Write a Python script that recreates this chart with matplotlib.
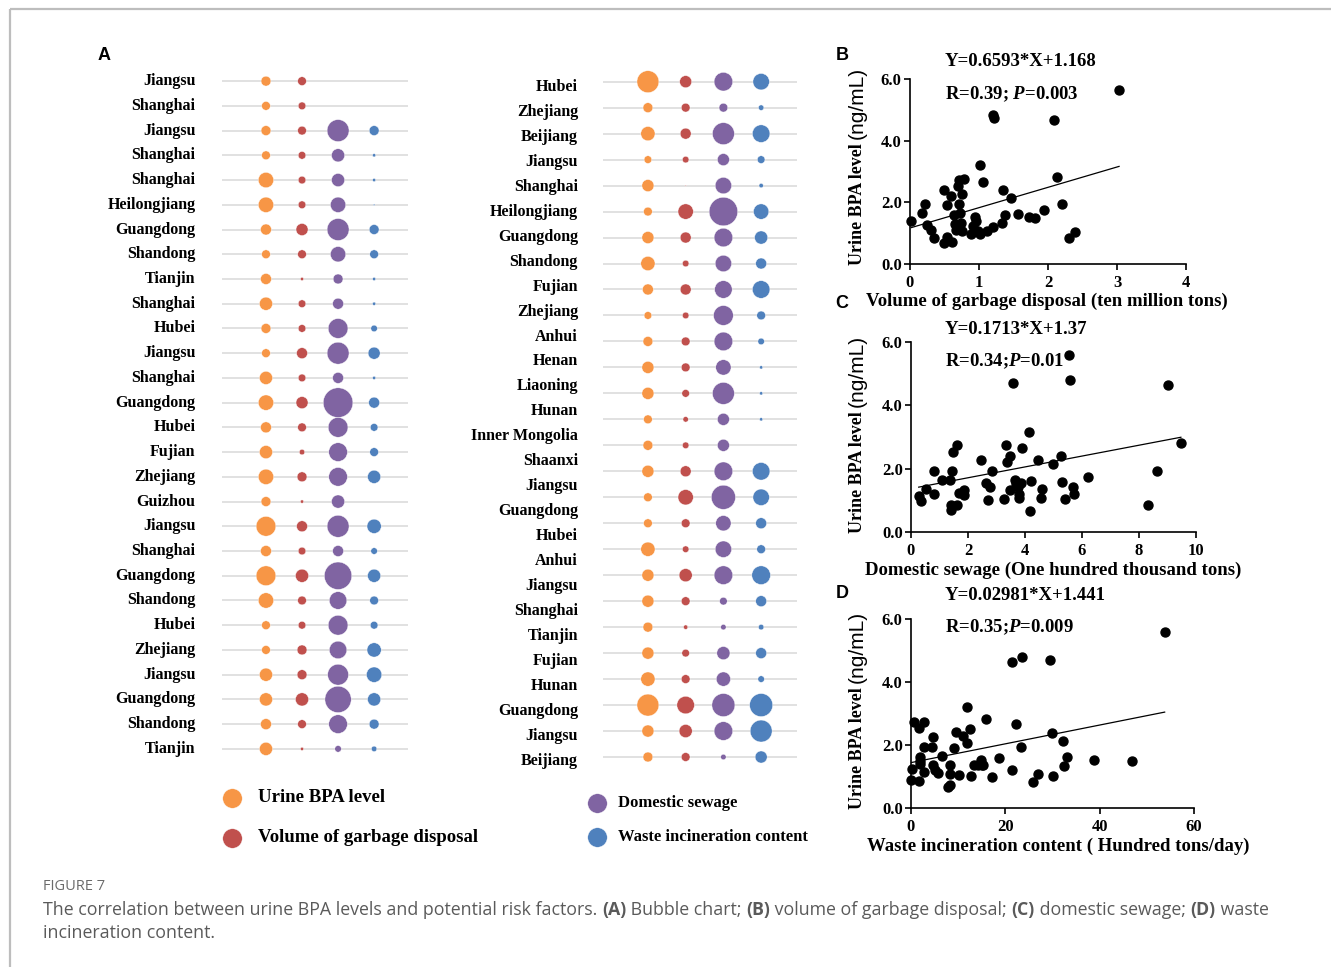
import numpy as np
import matplotlib.pyplot as plt

plt.rcParams["mathtext.fontset"] = "custom"
plt.rcParams["mathtext.rm"] = "Liberation Serif:bold"
plt.rcParams["mathtext.it"] = "Liberation Serif:bold:italic"

SERIF = "Liberation Serif"
SANS = "Liberation Sans"

# ---------------- bubble chart (A) ----------------
left_names = ["Jiangsu", "Shanghai", "Jiangsu", "Shanghai", "Shanghai", "Heilongjiang",
              "Guangdong", "Shandong", "Tianjin", "Shanghai", "Hubei", "Jiangsu",
              "Shanghai", "Guangdong", "Hubei", "Fujian", "Zhejiang", "Guizhou",
              "Jiangsu", "Shanghai", "Guangdong", "Shandong", "Hubei", "Zhejiang",
              "Jiangsu", "Guangdong", "Shandong", "Tianjin"]
left_bpa = [9, 8, 9, 8, 14, 14, 10, 8, 10, 12, 9, 8, 12, 14,
            10, 12, 14, 9, 18, 10, 18, 14, 8, 8, 12, 12, 10, 12]
left_garbage = [8, 7, 8, 7, 7, 7, 11, 8, 3, 7, 7, 10, 7, 11,
                8, 5, 9, 3, 10, 7, 12, 8, 7, 9, 9, 12, 8, 3]
left_sewage = [np.nan, np.nan, 20, 12, 12, 14, 20, 14, 9, 10, 18, 20, 10, 27,
               18, 17, 17, 12, 20, 10, 25, 16, 18, 16, 19, 24, 17, 6]
left_incin = [np.nan, np.nan, 9, 3, 3, 1.5, 9, 8, 3, 3, 6, 11, 3, 10,
              7, 8, 12, np.nan, 13, 6, 12, 8, 7, 13, 14, 12, 9, 5]

mid_names = ["Hubei", "Zhejiang", "Beijiang", "Jiangsu", "Shanghai", "Heilongjiang",
             "Guangdong", "Shandong", "Fujian", "Zhejiang", "Anhui", "Henan",
             "Liaoning", "Hunan", "Inner Mongolia", "Shaanxi", "Jiangsu", "Guangdong",
             "Hubei", "Anhui", "Jiangsu", "Shanghai", "Tianjin", "Fujian", "Hunan",
             "Guangdong", "Jiangsu", "Beijiang"]
mid_bpa = [20, 9, 13, 7, 11, 8, 11, 13, 10, 7, 9, 11, 11, 8,
           9, 11, 8, 8, 13, 11, 11, 9, 11, 13, 20, 11, 9]
mid_garbage = [11, 8, 10, 6, 1, 14, 10, 6, 10, 6, 8, 8, 7, 5,
               6, 10, 14, 8, 6, 12, 8, 4, 7, 8, 16, 12, 8]
mid_sewage = [17, 8, 20, 11, 15, 26, 17, 15, 16, 18, 17, 14, 20, 11,
              11, 17, 22, 14, 15, 17, 7, 5, 12, 13, 21, 17, 5]
mid_incin = [15, 5, 16, 7, 4, 14, 12, 10, 16, 8, 6, 3, 3, 3,
             np.nan, 16, 15, 10, 8, 17, 10, 5, 10, 6, 21, 20, 11]

series_names = ["Urine BPA level", "Volume of garbage disposal",
                "Domestic sewage", "Waste incineration content"]
series_colors = ["#F79646", "#C0504D", "#8064A2", "#4F81BD"]

# ---------------- scatter panels (B-D) ----------------
b_x = [0.02, 0.18, 0.22, 0.24, 0.30, 0.35, 0.49, 0.53, 0.49, 0.54, 0.60, 0.61,
       0.64, 0.65, 0.67, 0.69, 0.71, 0.71, 0.73, 0.74, 0.75, 0.75, 0.78, 0.69,
       0.88, 0.92, 0.94, 0.95, 0.98, 1.01, 1.01, 1.06, 1.12, 1.20, 1.22, 1.21,
       1.33, 1.35, 1.37, 1.46, 1.56, 1.73, 1.81, 1.94, 2.09, 2.13, 2.21, 2.31,
       2.39, 3.03]
b_y = [1.40, 1.65, 1.94, 1.25, 1.09, 0.83, 0.67, 0.86, 2.41, 1.90, 2.20, 0.71,
       1.58, 1.31, 1.11, 2.53, 2.73, 1.95, 1.65, 1.34, 2.28, 1.07, 2.77, 1.21,
       0.96, 1.23, 1.54, 1.40, 1.07, 3.20, 0.96, 2.67, 1.07, 4.84, 4.72, 1.21,
       1.32, 2.40, 1.58, 2.13, 1.62, 1.54, 1.49, 1.74, 4.67, 2.81, 1.93, 0.83,
       1.03, 5.64]

c_x = [0.27, 0.36, 0.53, 0.80, 0.82, 1.10, 1.40, 1.42, 1.38, 1.45, 1.47, 1.63,
       1.61, 1.67, 1.85, 1.87, 2.47, 2.62, 2.78, 2.83, 2.71, 3.25, 3.33, 3.37,
       3.48, 3.49, 3.58, 3.64, 3.68, 3.74, 3.79, 3.79, 3.86, 3.91, 4.15, 4.16,
       4.21, 4.47, 4.55, 4.61, 4.98, 5.26, 5.31, 5.40, 5.54, 5.57, 5.68, 5.71,
       6.20, 8.33, 8.63, 9.03, 9.47]
c_y = [1.14, 0.98, 1.35, 1.94, 1.21, 1.63, 0.86, 0.71, 1.63, 1.94, 2.53, 2.74,
       0.86, 1.23, 1.16, 1.32, 2.26, 1.56, 1.42, 1.92, 1.00, 1.03, 2.74, 2.20,
       2.40, 1.32, 4.71, 1.63, 1.51, 1.42, 1.21, 1.08, 1.56, 2.64, 3.16, 0.65,
       1.61, 2.27, 1.06, 1.37, 2.14, 2.39, 1.59, 1.03, 5.60, 4.81, 1.41, 1.20,
       1.75, 0.84, 1.94, 4.65, 2.81]

d_x = [0.07, 0.14, 0.71, 1.62, 1.62, 1.98, 1.98, 1.98, 2.75, 2.75, 2.75, 4.59,
       4.52, 4.59, 5.15, 5.65, 6.49, 7.83, 8.33, 8.19, 8.33, 9.17, 9.60, 10.16,
       11.08, 11.86, 11.86, 12.42, 12.63, 13.41, 14.26, 14.82, 15.03, 15.88,
       15.24, 17.2, 18.56, 21.38, 21.38, 22.30, 23.50, 23.36, 25.76, 26.89,
       29.50, 29.85, 30.06, 32.18, 32.46, 33.10, 38.88, 46.79, 53.78]
d_y = [0.88, 1.24, 2.74, 2.53, 0.85, 1.62, 1.49, 1.39, 2.73, 1.94, 1.15, 2.26,
       1.94, 1.36, 1.20, 1.11, 1.65, 0.66, 0.73, 1.36, 1.07, 1.91, 2.40, 1.06,
       2.29, 2.05, 3.22, 2.51, 1.02, 1.35, 1.35, 1.52, 1.37, 2.81, 1.36, 0.98,
       1.60, 1.20, 4.64, 2.66, 4.80, 1.94, 0.84, 1.09, 4.70, 2.39, 1.03, 2.13,
       1.33, 1.62, 1.52, 1.50, 5.60]

fits = {"B": (0.6593, 1.168), "C": (0.1713, 1.37), "D": (0.02981, 1.441)}

W, H = 1331, 967
fig = plt.figure(figsize=(W / 100, H / 100), dpi=100, facecolor="white")


def px_axes(x0, y0, x1, y1):
    return fig.add_axes([x0 / W, 1 - y1 / H, (x1 - x0) / W, (y1 - y0) / H])


# overlay in pixel units for frame, letters, legend and caption
ov = fig.add_axes([0, 0, 1, 1])
ov.set_xlim(0, W)
ov.set_ylim(H, 0)
ov.axis("off")
ov.plot([10, W], [9, 9], color="#BDBDBD", lw=1.6, solid_capstyle="butt")
ov.plot([10, 10], [9, H], color="#BDBDBD", lw=1.6, solid_capstyle="butt")

for letter, (lx, ly) in {"A": (104, 55), "B": (842, 55), "C": (842, 303),
                         "D": (842, 593)}.items():
    ov.text(lx, ly, letter, family=SANS, weight="bold", size=13,
            ha="center", va="center")

size_k = 0.79


def bubble_panel(box, columns, names, label_rows, pad):
    ax = px_axes(*box)
    n = len(columns[0])
    rows = np.arange(n)
    for r in rows:
        ax.axhline(r, color="#D9D9D9", lw=1.1, zorder=1)
    for j, (vals, col) in enumerate(zip(columns, series_colors)):
        v = np.asarray(vals, float)
        ok = ~np.isnan(v)
        ax.scatter(np.full(ok.sum(), j + 1), rows[ok], s=(v[ok] * size_k) ** 2,
                   color=col, edgecolor="white", linewidth=0.3, zorder=3)
    for name, ry in zip(names, label_rows):
        ax.annotate(name, xy=(0, ry), xycoords=ax.get_yaxis_transform(),
                    xytext=(-pad, 0), textcoords="offset points",
                    ha="right", va="center", family=SERIF, weight="bold",
                    size=11.5, annotation_clip=False)
    ax.axis("off")
    return ax


ax_l = bubble_panel((222, 70, 408, 760),
                    [left_bpa, left_garbage, left_sewage, left_incin],
                    left_names, np.arange(len(left_names)), 19)
ax_l.set_xlim(-0.22, 4.94)
ax_l.set_ylim(27.45, -0.45)

ax_m = bubble_panel((603, 70, 797, 770),
                    [mid_bpa, mid_garbage, mid_sewage, mid_incin],
                    mid_names, np.linspace(0.2, 26.15, len(mid_names)), 18)
ax_m.set_xlim(-0.19, 4.95)
ax_m.set_ylim(26.5, -0.45)

# legend
for i, (name, col) in enumerate(zip(series_names, series_colors)):
    lx = 232 if i < 2 else 597
    ly = [798, 838, 803, 837][i]
    ov.scatter([lx], [ly], s=(19 * 0.74) ** 2, color=col, edgecolor="white",
               linewidth=0.3)
    ov.text(lx + 26 if i < 2 else lx + 21, ly, name, family=SERIF, weight="bold",
            size=13.5 if i < 2 else 12, ha="left", va="center")


def scatter_panel(box, x, y, key, xmax, xstep, xlabel, eq_y, r_text, xl_x, xl_y):
    ax = px_axes(*box)
    ax.scatter(x, y, s=(9 * 0.72) ** 2, color="black", zorder=3, clip_on=False)
    slope, icpt = fits[key]
    xs = np.array([min(x), max(x)])
    ax.plot(xs, slope * xs + icpt, color="black", lw=0.9)
    ax.set_xlim(0, xmax)
    ax.set_ylim(0, 6)
    ax.set_xticks(np.arange(0, xmax + 0.1, xstep))
    ax.set_yticks([0, 2, 4, 6])
    ax.set_yticklabels([f"{v:.1f}" for v in [0, 2, 4, 6]])
    for s in ["top", "right"]:
        ax.spines[s].set_visible(False)
    for s in ["left", "bottom"]:
        ax.spines[s].set_linewidth(1.2)
    ax.tick_params(direction="out", length=4, width=1.2)
    ax.tick_params(axis="x", pad=4)
    ax.tick_params(axis="y", pad=2)
    for t in ax.get_xticklabels() + ax.get_yticklabels():
        t.set_family(SERIF)
        t.set_weight("bold")
        t.set_size(12)
    ax.patch.set_alpha(0)
    ov.text(945, eq_y, f"Y={slope}*X+{icpt}", family=SERIF, weight="bold",
            size=13.5, ha="left", va="center")
    ov.text(945, eq_y + 32, r_text, family=SERIF, weight="bold",
            size=13.5, ha="left", va="center")
    ov.text(xl_x, xl_y, xlabel, family=SERIF,
            weight="bold", size=13.5, ha="center", va="center")
    t1 = ov.text(857, box[3] + 1, "Urine BPA level ", rotation=90, ha="center",
                 va="bottom", family=SERIF, weight="bold", size=13)
    ov.annotate("(ng/mL)", xy=(0.5, 1), xycoords=t1, rotation=90, ha="center",
                va="bottom", family=SANS, size=15)
    return ax


scatter_panel((910, 79, 1186, 264), b_x, b_y, "B", 4, 1,
              "Volume of garbage disposal (ten million tons)", 62,
              r"R=0.39; $P$=0.003", 1047, 301)
scatter_panel((911, 342, 1196, 532), c_x, c_y, "C", 10, 2,
              "Domestic sewage (One hundred thousand tons)", 329,
              r"R=0.34;$P$=0.01", 1053, 570)
scatter_panel((911, 619, 1194, 808), d_x, d_y, "D", 60, 20,
              "Waste incineration content ( Hundred tons/day)", 595,
              r"R=0.35;$P$=0.009", 1058, 846)

# caption
ov.text(43, 886, "FIGURE 7", family="Open Sans", size=10.5, color="#6b6b6b",
        ha="left", va="center")
cap_color = "#5a5a5a"
cap_size = 12.8
pieces = [("The correlation between urine BPA levels and potential risk factors. ", "normal"),
          ("(A)", "bold"), (" Bubble chart; ", "normal"),
          ("(B)", "bold"), (" volume of garbage disposal; ", "normal"),
          ("(C)", "bold"), (" domestic sewage; ", "normal"),
          ("(D)", "bold"), (" waste", "normal")]
prev = ov.text(43, 910, pieces[0][0], family="Open Sans", size=cap_size,
               color=cap_color, ha="left", va="center")
for txt, wt in pieces[1:]:
    prev = ov.annotate(txt, xy=(1, 0), xycoords=prev, ha="left", va="bottom",
                       family="Open Sans", size=cap_size, color=cap_color, weight=wt)
ov.text(43, 933, "incineration content.", family="Open Sans", size=cap_size,
        color=cap_color, ha="left", va="center")

fig.savefig("out.png", dpi=100, facecolor="white")
